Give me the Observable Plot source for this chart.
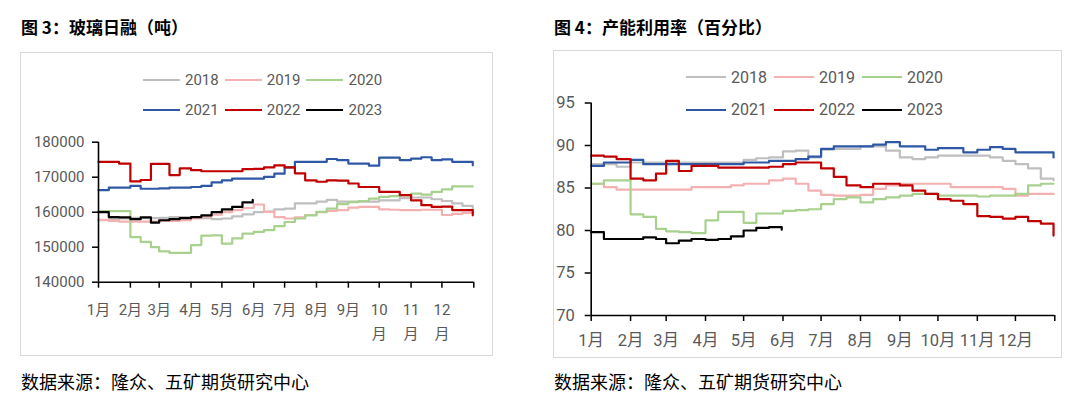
<!DOCTYPE html>
<html><head><meta charset="utf-8">
<script src="https://cdn.jsdelivr.net/npm/d3@7"></script>
<script src="https://cdn.jsdelivr.net/npm/@observablehq/plot@0.6"></script>
<style>
body{margin:0;background:#fff;}
#page{position:relative;width:1080px;height:394px;overflow:hidden;font-family:"Noto Sans CJK SC",sans-serif;}
.title{position:absolute;font-weight:bold;font-size:17px;line-height:20px;color:#000;white-space:nowrap;}
.caption{position:absolute;font-size:18px;line-height:20px;color:#000;white-space:nowrap;}
.frame{position:absolute;border:1.5px solid #d9d9d9;box-sizing:border-box;}
.legend{position:absolute;font-family:Roboto,sans-serif;color:#595959;}
.legend .row{display:flex;align-items:center;}
.legend .item{display:flex;align-items:center;}
.legend .sw{height:0;border-top:2.5px solid;}
.chart{position:absolute;}
</style></head><body><div id="page">
<div class="title" style="left:21px;top:17px;">图 3：玻璃日融（吨）</div>
<div class="title" style="left:554px;top:17px;">图 4：产能利用率（百分比）</div>
<div class="frame" style="left:20px;top:52px;width:473px;height:304px;"></div>
<div class="frame" style="left:553px;top:50px;width:509px;height:308px;"></div>
<div class="legend" id="legL" style="left:143px;top:65px;font-size:15px;"></div>
<div class="legend" id="legR" style="left:686px;top:61px;font-size:16px;"></div>
<div class="chart" id="chartL" style="left:10px;top:130px;"></div>
<div class="chart" id="chartR" style="left:545px;top:92px;"></div>
<div class="caption" style="left:21px;top:371px;">数据来源：隆众、五矿期货研究中心</div>
<div class="caption" style="left:554px;top:371px;">数据来源：隆众、五矿期货研究中心</div>
</div>
<script>
const years = ["2018","2019","2020","2021","2022","2023"];
const colors = ["#BFBFBF","#F4B1B1","#A9D18E","#2E58A6","#C00000","#000000"];

const dates = ["01-01","01-11","01-21","02-01","02-11","02-21","03-01","03-11","03-21","04-01","04-11","04-21","05-01","05-11","05-21","06-01","06-11","06-21","07-01","07-11","07-21","08-01","08-11","08-21","09-01","09-11","09-21","10-01","10-11","10-21","11-01","11-11","11-21","12-01","12-11","12-21","12-31"];
const dates2023 = ["01-01","01-11","01-21","02-01","02-11","02-21","03-01","03-11","03-21","04-01","04-11","04-21","05-01","05-11","05-21","05-31"];

// 图3 玻璃日融（吨）
const melt2018 = [157700,158000,158200,158400,158300,158300,158400,158600,158600,158500,158300,158000,158200,158800,159400,160000,160200,160800,161000,162500,162500,163000,163500,163000,163000,163000,163000,163400,163400,164000,164200,164200,163700,163200,162500,161800,160500];
const melt2019 = [157800,157500,157300,157300,157300,157300,157500,157500,157700,158200,158800,159300,160000,160600,161200,162200,160100,158600,158200,158500,159200,160000,160400,160600,161300,161500,161500,160800,160700,160600,160600,160700,160700,159200,159500,159800,160100];
const melt2020 = [160300,160300,160300,152900,151500,150000,148800,148400,148400,150600,153300,153400,151000,152500,153900,154400,154900,156000,157200,158200,159100,160100,161000,162300,162900,163200,163900,164400,164600,164800,165300,165000,165800,166500,167400,167400,167400];
const melt2021 = [166300,167000,167000,167500,166700,166700,166800,167000,167000,167200,167500,168500,169100,169600,169600,169600,170100,171000,172800,174400,174400,174400,175200,174900,173900,173900,173300,175600,175600,174900,175300,175700,174900,175100,174400,174400,173400];
const melt2022 = [174400,174400,173900,168800,169200,173800,173800,170600,172500,172000,171700,171700,171700,171700,172300,172400,172800,173400,172800,171100,169100,168700,169100,169000,168200,167200,167200,165800,165800,164900,163400,162000,161500,161600,160600,160600,159100];
const melt2023 = [160000,158600,158500,158000,158500,157000,157700,158000,158300,158600,159100,160000,160800,161500,162800,163500];
const meltTicks = [140000,150000,160000,170000,180000];

// 图4 产能利用率（百分比）
const util2018 = [87.8,87.8,87.5,88.0,88.0,88.0,88.0,88.0,88.0,88.0,88.0,88.0,88.3,88.5,88.6,89.3,89.4,88.6,89.5,89.6,89.6,89.9,89.9,89.4,88.6,88.4,88.6,88.8,88.8,88.8,88.8,88.6,88.2,87.8,87.3,86.1,85.9];
const util2019 = [85.5,85.1,84.8,84.8,84.8,84.8,84.8,84.8,85.1,85.1,85.1,85.3,85.5,85.5,85.9,86.1,85.5,84.7,84.2,84.1,84.1,84.2,84.9,85.3,85.5,85.5,85.5,85.5,85.1,85.1,85.1,85.1,84.9,84.1,84.3,84.3,84.3];
const util2020 = [85.5,85.9,85.9,81.9,81.6,80.2,79.9,79.8,79.7,81.2,82.2,82.2,80.9,82.0,82.0,82.3,82.4,82.5,83.1,83.7,83.9,83.3,83.7,83.9,84.1,84.3,84.3,84.1,84.1,84.1,84.0,84.1,84.1,84.3,85.3,85.5,85.5];
const util2021 = [87.6,88.0,88.0,88.3,87.8,87.8,87.8,87.8,87.8,87.8,87.8,87.8,88.0,88.0,88.2,88.2,88.4,88.7,89.6,89.9,89.9,89.9,90.1,90.4,89.9,89.9,89.5,89.7,89.7,89.2,89.5,89.8,89.6,89.2,89.2,89.2,88.6];
const util2022 = [88.8,88.7,88.4,86.1,85.9,86.7,88.2,87.0,87.6,87.6,87.4,87.4,87.4,87.4,87.5,87.8,88.0,88.0,87.3,86.3,85.3,85.1,85.5,85.5,85.3,84.7,84.3,83.7,83.5,83.1,81.7,81.6,81.4,81.6,81.1,80.8,79.4];
const util2023 = [79.8,79.0,79.0,79.0,79.2,79.0,78.5,78.8,79.0,78.9,79.0,79.3,80.0,80.3,80.4,80.1];
const utilTicks = [70,75,80,85,90,95];

function toDate(s){const [m,d]=s.split("-").map(Number);return new Date(Date.UTC(2021,m-1,d));}
function rows(ds, vals){return vals.map((v,i)=>({date:toDate(ds[i]),value:v}));}
const monthTicks = d3.range(13).map(i=>new Date(Date.UTC(2021,i,1)));
const xDomain = [monthTicks[0], monthTicks[12]];

function buildLegend(id, swW, gapIn, gapOut, rowH){
  const el = document.getElementById(id);
  [[0,1,2],[3,4,5]].forEach(idx=>{
    const row = document.createElement("div");
    row.className="row"; row.style.height=rowH+"px";
    idx.forEach((k,j)=>{
      const it=document.createElement("div"); it.className="item";
      if(j>0) it.style.marginLeft=gapOut+"px";
      const sw=document.createElement("div"); sw.className="sw";
      sw.style.width=swW+"px"; sw.style.borderTopColor=colors[k]; sw.style.marginRight=gapIn+"px";
      const tx=document.createElement("span"); tx.textContent=years[k];
      it.appendChild(sw); it.appendChild(tx); row.appendChild(it);
    });
    el.appendChild(row);
  });
}
buildLegend("legL",37,5,6,30);
buildLegend("legR",40,5,7,32.6);

function makeChart(cfg){
  const series = cfg.data.map((vals,k)=>rows(k===5?dates2023:dates, vals));
  return Plot.plot({
    width: cfg.width, height: cfg.height,
    marginLeft: cfg.ml, marginRight: cfg.mr, marginTop: cfg.mt, marginBottom: cfg.mb,
    style:{fontFamily:"Roboto,'Noto Sans CJK SC',sans-serif",fontSize:cfg.fs+"px",background:"transparent",overflow:"visible"},
    x:{type:"utc",domain:xDomain},
    y:{domain:[cfg.yTicks[0],cfg.yTicks[cfg.yTicks.length-1]]},
    marks:[
      ...series.map((s,k)=>Plot.line(s,{x:"date",y:"value",stroke:colors[k],strokeWidth:2.2,curve:"step-after"})),
      Plot.ruleX([xDomain[0]],{stroke:"#000",strokeWidth:1.6}),
      Plot.ruleY([cfg.yTicks[0]],{stroke:"#000",strokeWidth:1.6}),
      Plot.axisY({ticks:cfg.yTicks,label:null,tickSize:6,tickPadding:cfg.yPad,stroke:"#000",strokeWidth:1.5,fill:"#595959",tickFormat:d=>String(d)}),
      Plot.axisX({ticks:monthTicks,label:null,tickSize:6,tickPadding:cfg.xPad,stroke:"#000",strokeWidth:1.5,fill:"#595959",lineHeight:cfg.lh,tickFormat:cfg.xFmt})
    ]
  });
}

document.getElementById("chartL").appendChild(makeChart({
  data:[melt2018,melt2019,melt2020,melt2021,melt2022,melt2023],
  width:480,height:215,ml:88,mr:16.7,mt:11.7,mb:63.3,fs:15,yTicks:meltTicks,yPad:8,xPad:9.5,lh:1.6,
  xFmt:d=>{if(d.getUTCFullYear()>2021)return "";const m=d.getUTCMonth()+1;return m>=10?m+"\n月":m+"月";}
}));
document.getElementById("chartR").appendChild(makeChart({
  data:[util2018,util2019,util2020,util2021,util2022,util2023],
  width:515,height:265,ml:45.7,mr:5.7,mt:10.5,mb:42,fs:16.5,yTicks:utilTicks,yPad:10.4,xPad:10.5,lh:1.2,
  xFmt:d=>{if(d.getUTCFullYear()>2021)return "";return (d.getUTCMonth()+1)+"月";}
}));
</script>
</body></html>
